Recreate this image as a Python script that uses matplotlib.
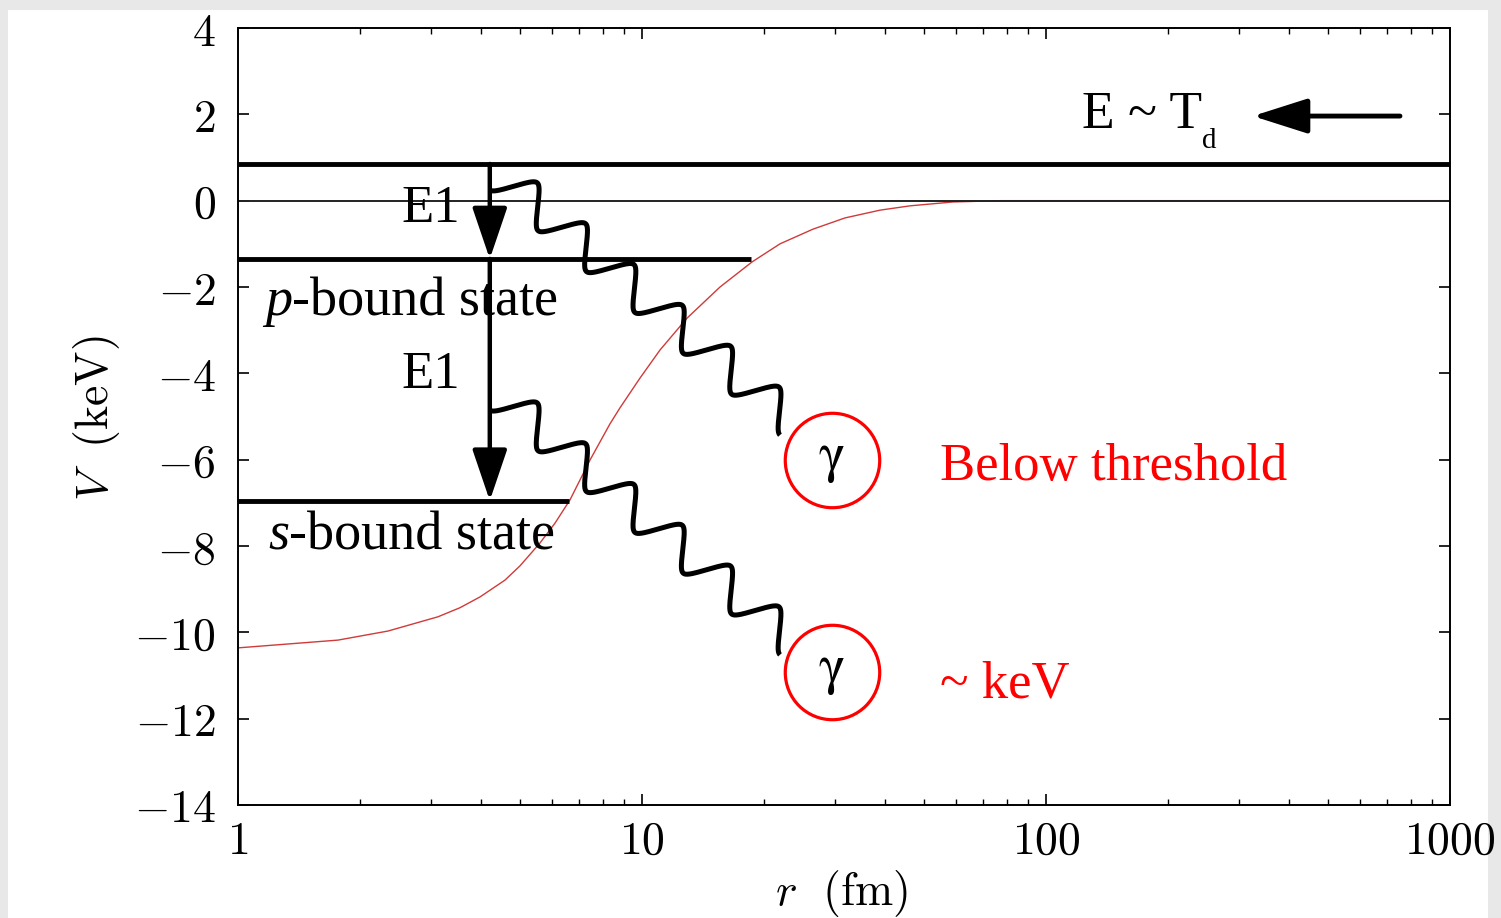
import numpy as np
import matplotlib
matplotlib.use("Agg")
import matplotlib.pyplot as plt
from matplotlib.patches import Rectangle

plt.rcParams['mathtext.fontset'] = 'cm'
SERIF = 'Liberation Serif'

# potential curve (r in fm, V in keV)
r_curve = [1.0, 1.768, 2.351, 3.126, 3.543, 3.972, 4.58, 4.989, 5.591, 6.091,
           6.635, 7.434, 8.332, 8.82, 9.886, 11.08, 12.93, 15.6, 18.72, 21.96,
           26.5, 31.8, 38.82, 46.07, 58.88, 76.9, 136, 1000]
v_curve = [-10.36, -10.18, -9.97, -9.64, -9.43, -9.18, -8.79, -8.46, -7.93,
           -7.47, -6.93, -6.01, -5.17, -4.80, -4.11, -3.46, -2.72, -2.00,
           -1.42, -1.00, -0.66, -0.40, -0.22, -0.12, -0.03, 0.0, 0.0, 0.0]

# energy levels
e_level = 0.85
p_level, p_end = -1.35, 18.6
s_level, s_end = -6.95, 6.6
arrow_x = 4.2

# photon lines: (start, end) in data coords
photons = [((4.2, 0.25), (21.96, -5.43)),
           ((4.2, -4.85), (21.96, -10.52))]
gamma_x = [29.5, 29.5]
gamma_y = [-6.01, -10.92]
gamma_base = [-6.26, -11.17]

yticks = [4, 2, 0, -2, -4, -6, -8, -10, -12, -14]
xticks = [1, 10, 100, 1000]

fig = plt.figure(figsize=(15.01, 9.18), dpi=100, facecolor='#e8e8e8')
fig.patches.append(Rectangle((8 / 1501, 0), 1480 / 1501, 908 / 918,
                             transform=fig.transFigure, facecolor='white',
                             edgecolor='none', zorder=-10))
ax = fig.add_axes([238 / 1501, 1 - 805 / 918, 1212 / 1501, 777 / 918])
ax.set_xscale('log')
ax.set_xlim(1, 1000)
ax.set_ylim(-14, 4)

ax.plot(r_curve, v_curve, color='#d03a3a', lw=1.0)

ax.axhline(0, color='#222222', lw=1.4)
ax.hlines(e_level, 1, 1000, color='black', lw=3.5, clip_on=False)
ax.hlines(p_level, 1, p_end, color='black', lw=3.5, clip_on=False)
ax.hlines(s_level, 1, s_end, color='black', lw=3.5, clip_on=False)

arr = dict(arrowstyle='-|>,head_length=1.06,head_width=0.36', mutation_scale=30,
           lw=3.2, color='black', shrinkA=0, shrinkB=0)
ax.annotate('', xy=(arrow_x, p_level), xytext=(arrow_x, e_level), arrowprops=arr)
ax.annotate('', xy=(arrow_x, s_level), xytext=(arrow_x, p_level), arrowprops=arr)

# incoming arrow
harr = dict(arrowstyle='-|>,head_length=1.13,head_width=0.36', mutation_scale=30,
            lw=3.5, color='black', shrinkA=0, shrinkB=0)
ax.annotate('', xy=(325, 1.96), xytext=(752, 1.96), arrowprops=harr)


def wavy(p0, p1, periods=6, amp=36, k=0.85):
    # staircase-like photon line: rounded triangle wave across the diagonal
    a = ax.transData.transform(p0)
    b = ax.transData.transform(p1)
    d = b - a
    u = d / np.hypot(*d)
    n = np.array([-u[1], u[0]])
    t = np.linspace(0, 1, 1200)
    f = np.arcsin(k * np.cos(2 * np.pi * periods * t)) / np.arcsin(k)
    off = amp * (1 - f) / 2
    pts = a + t[:, None] * d + off[:, None] * n
    xy = ax.transData.inverted().transform(pts)
    ax.plot(xy[:, 0], xy[:, 1], color='black', lw=3.6, solid_capstyle='butt')


for p0, p1 in photons:
    wavy(p0, p1)

ax.plot(gamma_x, gamma_y, 'o', ms=68, mfc='none', mec='red', mew=2.3)
for gx, gy in zip(gamma_x, gamma_base):
    ax.text(gx, gy, 'γ', ha='center', va='baseline', fontsize=40, family='STIXGeneral')

# labels
ax.text(3.54, -0.49, 'E1', ha='right', va='baseline', fontsize=38, family=SERIF)
ax.text(3.54, -4.34, 'E1', ha='right', va='baseline', fontsize=38, family=SERIF)
tp = ax.text(1.166, -2.65, 'p', va='baseline', fontsize=39, family=SERIF, style='italic')
ax.annotate('-bound state', xy=(1, 0), xycoords=tp, va='bottom', ha='left',
            fontsize=39, family=SERIF)
ts = ax.text(1.186, -8.09, 's', va='baseline', fontsize=39, family=SERIF, style='italic')
ax.annotate('-bound state', xy=(1, 0), xycoords=ts, va='bottom', ha='left',
            fontsize=39, family=SERIF)
ax.text(122.8, 1.68, 'E ~ T', va='baseline', fontsize=38.5, family=SERIF)
ax.text(243, 1.22, 'd', va='baseline', fontsize=21, family=SERIF)
ax.text(54.7, -6.47, 'Below threshold', va='baseline', fontsize=38, family=SERIF, color='red')
ax.text(54.7, -11.52, '~ keV', va='baseline', fontsize=38, family=SERIF, color='red')

# axes styling
ax.set_yticks(yticks)
ax.set_yticklabels([f'${v}$' for v in yticks])
ax.set_xticks(xticks)
ax.set_xticklabels([f'${v}$' for v in xticks])
ax.tick_params(which='both', direction='in', top=True, right=True, color='black')
ax.tick_params(axis='y', which='major', length=8, width=1.2, labelsize=33, pad=16)
ax.tick_params(axis='x', which='major', length=8, width=1.2, labelsize=33, pad=10)
ax.tick_params(axis='x', which='minor', length=4, width=1.0)
ax.yaxis.set_minor_locator(matplotlib.ticker.NullLocator())
for sp in ax.spines.values():
    sp.set_linewidth(1.4)

ax.set_ylabel(r'$V\ \ (\mathrm{keV})$', fontsize=33)
ax.yaxis.set_label_coords(-0.0957, 0.498)
ax.set_xlabel(r'$r\ \ (\mathrm{fm})$', fontsize=33)
ax.xaxis.set_label_coords(0.498, -0.081)

fig.savefig('out.png', dpi=100, facecolor=fig.get_facecolor())
